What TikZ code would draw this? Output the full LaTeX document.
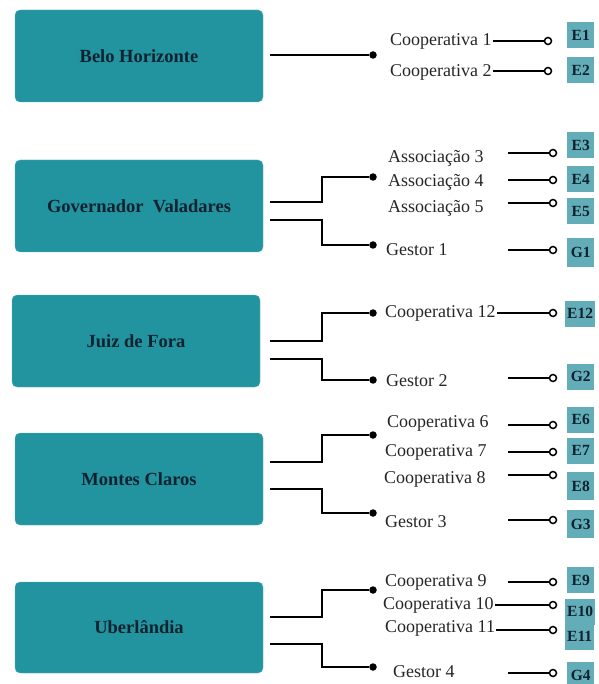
\documentclass[tikz,border=0pt]{standalone}
\usepackage{fontspec}
\setmainfont{Liberation Serif}
\definecolor{cidade}{RGB}{33,148,160}
\definecolor{entidade}{RGB}{98,173,183}
\definecolor{rotulo}{RGB}{16,34,48}

\begin{document}
\begin{tikzpicture}[x=1pt,y=-1pt,
        cidade/.style={fill=cidade, draw=cidade!75!white, rounded corners=5pt, minimum width=248pt, minimum height=92pt, font=\fontsize{18.5}{20}\selectfont\bfseries, text=rotulo},
        membro/.style={anchor=west, inner sep=1pt, font=\fontsize{18}{20}\selectfont, text=black!85},
        sigla/.style={anchor=west, fill=entidade, minimum width=27pt, minimum height=26pt, inner sep=2pt, font=\fontsize{15.5}{16}\selectfont\bfseries, text=rotulo},
        ponto/.style={circle, fill=black, inner sep=0pt, minimum size=7.5pt},
        anel/.style={circle, draw=black, fill=white, line width=1.5pt, inner sep=0pt, minimum size=7pt},
        liga/.style={line width=1.8pt}]
        \useasboundingbox (0,0) rectangle (598,684);

        % cidades
        \node[cidade] (bh) at (139,56) {Belo Horizonte};
        \node[cidade] (gv) at (139,206) {Governador\ \ Valadares};
        \node[cidade] (jf) at (136,341) {Juiz de Fora};
        \node[cidade] (mc) at (139,479) {Montes Claros};
        \node[cidade, minimum height=91pt] (ub) at (139,627.5) {Uberl\^andia};

        % Belo Horizonte
        \coordinate (bh1) at (270,55);
        \node[ponto] (bh-d1) at (373,55) {};
        \draw[liga] (bh1) -- (bh-d1);

        \node[membro] (c1) at (389,41) {Cooperativa 1};
        \node[membro] (c2) at (389,72) {Cooperativa 2};
        \node[anel] (o1) at (548,41) {};
        \node[anel] (o2) at (548,71) {};
        \draw[liga] (c1.east |- o1.west) -- (o1.west);
        \draw[liga] (c2.east |- o2.west) -- (o2.west);
        \node[sigla] (e1) at (567,35) {E1};
        \node[sigla] (e2) at (567,70) {E2};

        % Governador Valadares
        \coordinate (gv1) at (270,202);
        \coordinate (gv2) at (270,220);
        \node[ponto] (gv-d1) at (373,177) {};
        \node[ponto] (gv-d2) at (373,245) {};
        \draw[liga] (gv1) -- ++(52,0) |- (gv-d1);
        \draw[liga] (gv2) -- ++(52,0) |- (gv-d2);

        \node[membro] (a3) at (387,158) {Associação 3};
        \node[membro] (a4) at (387,182) {Associação 4};
        \node[membro] (a5) at (387,208) {Associação 5};
        \node[membro] (g1) at (385,250) {Gestor 1};
        \coordinate (s3) at (508,153);
        \coordinate (s4) at (508,180);
        \coordinate (s5) at (508,203);
        \coordinate (s6) at (508,250);
        \node[anel] (o3) at (553,153) {};
        \node[anel] (o4) at (553,180) {};
        \node[anel] (o5) at (553,203) {};
        \node[anel] (o6) at (553,250) {};
        \draw[liga] (s3) -- (o3.west);
        \draw[liga] (s4) -- (o4.west);
        \draw[liga] (s5) -- (o5.west);
        \draw[liga] (s6) -- (o6.west);
        \node[sigla] (e3) at (567,145.5) {E3};
        \node[sigla] (e4) at (567,179.5) {E4};
        \node[sigla] (e5) at (567,211.5) {E5};
        \node[sigla, minimum height=29pt] (g1b) at (567,252.5) {G1};

        % Juiz de Fora
        \coordinate (jf1) at (270,341);
        \coordinate (jf2) at (270,359);
        \node[ponto] (jf-d1) at (373,313) {};
        \node[ponto] (jf-d2) at (373,380) {};
        \draw[liga] (jf1) -- ++(52,0) |- (jf-d1);
        \draw[liga] (jf2) -- ++(52,0) |- (jf-d2);

        \node[membro] (c12) at (384,313) {Cooperativa 12};
        \node[membro] (g2) at (385,381) {Gestor 2};
        \coordinate (s8) at (508,378);
        \node[anel] (o7) at (553,313) {};
        \node[anel] (o8) at (553,378) {};
        \draw[liga] (c12.east |- o7.west) -- (o7.west);
        \draw[liga] (s8) -- (o8.west);
        \node[sigla] (e12) at (565,313.5) {E12};
        \node[sigla] (g2b) at (567,376.5) {G2};

        % Montes Claros
        \coordinate (mc1) at (270,462);
        \coordinate (mc2) at (270,489);
        \node[ponto] (mc-d1) at (373,435) {};
        \node[ponto] (mc-d2) at (373,513) {};
        \draw[liga] (mc1) -- ++(52,0) |- (mc-d1);
        \draw[liga] (mc2) -- ++(52,0) |- (mc-d2);

        \node[membro] (c6) at (386,423) {Cooperativa 6};
        \node[membro] (c7) at (384,452) {Cooperativa 7};
        \node[membro] (c8) at (383,479) {Cooperativa 8};
        \node[membro] (g3) at (384,522) {Gestor 3};
        \coordinate (s9) at (508,425);
        \coordinate (s10) at (508,452);
        \coordinate (s11) at (508,475);
        \coordinate (s12) at (508,520);
        \node[anel] (o9) at (553,425) {};
        \node[anel] (o10) at (553,452) {};
        \node[anel] (o11) at (553,475) {};
        \node[anel] (o12) at (553,520) {};
        \draw[liga] (s9) -- (o9.west);
        \draw[liga] (s10) -- (o10.west);
        \draw[liga] (s11) -- (o11.west);
        \draw[liga] (s12) -- (o12.west);
        \node[sigla] (e6) at (567,419.5) {E6};
        \node[sigla] (e7) at (567,450.5) {E7};
        \node[sigla, minimum height=28pt] (e8) at (567,486) {E8};
        \node[sigla, minimum height=28pt] (g3b) at (567,524) {G3};

        % Uberlandia
        \coordinate (ub1) at (270,617);
        \coordinate (ub2) at (270,644);
        \node[ponto] (ub-d1) at (373,590) {};
        \node[ponto] (ub-d2) at (373,667) {};
        \draw[liga] (ub1) -- ++(52,0) |- (ub-d1);
        \draw[liga] (ub2) -- ++(52,0) |- (ub-d2);

        \node[membro] (c9) at (384,582) {Cooperativa 9};
        \node[membro] (c10) at (382,605) {Cooperativa 10};
        \node[membro] (c11) at (384,628) {Cooperativa 11};
        \node[membro] (g4) at (392,672) {Gestor 4};
        \coordinate (s13) at (508,582);
        \coordinate (s16) at (508,673);
        \node[anel] (o13) at (553,582) {};
        \node[anel] (o14) at (553,605) {};
        \node[anel] (o15) at (553,630) {};
        \node[anel] (o16) at (553,673) {};
        \draw[liga] (s13) -- (o13.west);
        \draw[liga] (c10.east |- o14.west) -- (o14.west);
        \draw[liga] (c11.east |- o15.west) -- (o15.west);
        \draw[liga] (s16) -- (o16.west);
        \node[sigla] (e9) at (567,580) {E9};
        \node[sigla] (e10) at (565,611.5) {E10};
        \node[sigla, minimum height=28pt] (e11) at (565,636) {E11};
        \node[sigla] (g4b) at (567,675) {G4};

    \end{tikzpicture}
\end{document}
